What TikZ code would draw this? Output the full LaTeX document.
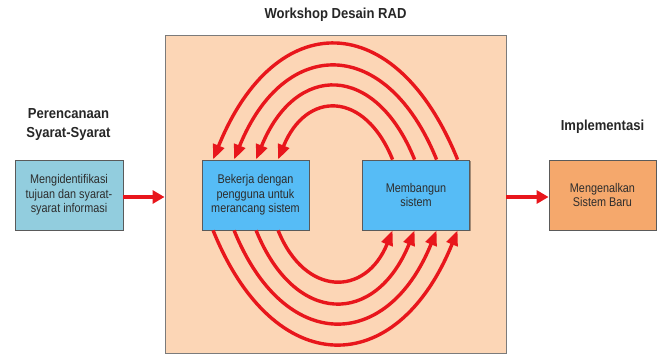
\documentclass[tikz,border=0pt]{standalone}
\usepackage{fontspec}
\setmainfont{Liberation Sans}[FakeStretch=0.9]
\newfontfamily\narrowfont{Liberation Sans}[FakeStretch=0.86]
\usetikzlibrary{arrows.meta,calc,shadows}
\definecolor{peach}{RGB}{252,214,182}
\definecolor{lblue}{RGB}{146,205,222}
\definecolor{sblue}{RGB}{86,188,246}
\definecolor{orng}{RGB}{245,168,108}
\definecolor{arrred}{RGB}{232,22,28}
\definecolor{bordr}{RGB}{90,90,90}
\definecolor{txt}{RGB}{45,45,45}
\tikzset{
  procbox/.style={draw=bordr, line width=0.8pt, inner sep=0pt, minimum width=107pt, minimum height=70pt,
    align=center, text=txt, font=\narrowfont\fontsize{12.6}{14.4}\selectfont,
    drop shadow={shadow xshift=1.2pt, shadow yshift=-1.2pt, opacity=0.35, fill=black}},
  ttl/.style={align=center, text=black!85, font=\fontsize{14.5}{19}\selectfont\bfseries},
  redarrow/.style={draw=arrred, line width=3.4pt, -{Triangle[length=15pt,width=11.5pt]}},
  hredarrow/.style={draw=arrred, line width=3.4pt, -{Triangle[length=12pt,width=13pt]}},
}
\begin{document}
\begin{tikzpicture}[x=1pt,y=1pt]
\useasboundingbox (0,0) rectangle (665,356);
\node[draw=bordr!80, line width=0.9pt, fill=peach, minimum width=341pt, minimum height=318pt, inner sep=0pt] (big) at (335.5,162) {};
\node[ttl] (twork) at (335.5,341) {Workshop Desain RAD};
\node[ttl] (tplan) at (68.5,231) {Perencanaan\\Syarat-Syarat};
\node[ttl] (timpl) at (602.5,229) {Implementasi};
\node[procbox, fill=lblue, minimum width=108pt] (lbox) at (69,161) {Mengidentifikasi\\tujuan dan syarat-\\syarat informasi};
\node[procbox, fill=sblue] (bek) at (255.5,161) {Bekerja dengan\\pengguna untuk\\merancang sistem};
\node[procbox, fill=sblue] (mem) at (416,161) {Membangun\\sistem};
\node[procbox, fill=orng] (rbox) at (602.5,161) {Mengenalkan\\Sistem Baru};
\draw[hredarrow] ([yshift=-2pt]lbox.east) -- ([yshift=-2pt]lbox.east -| big.west);
\draw[hredarrow] ([yshift=-2pt]rbox.west -| big.east) -- ([yshift=-2pt]rbox.west);
% top arcs: from Membangun back to Bekerja
\coordinate (mt1) at ($(mem.north west)+(30.5,0)$);
\coordinate (mt2) at ($(mem.north west)+(52.5,0)$);
\coordinate (mt3) at ($(mem.north west)+(74.5,0)$);
\coordinate (mt4) at ($(mem.north west)+(95.5,0)$);
\coordinate (bt1) at ($(bek.north west)+(76.5,0)$);
\coordinate (bt2) at ($(bek.north west)+(54.5,0)$);
\coordinate (bt3) at ($(bek.north west)+(32.5,0)$);
\coordinate (bt4) at ($(bek.north west)+(11.5,0)$);
\draw[redarrow] (mt1) .. controls +(-28.0,69.3) and +(28.0,69.3) .. (bt1);
\draw[redarrow] (mt2) .. controls +(-39.3,97.3) and +(39.3,97.3) .. (bt2);
\draw[redarrow] (mt3) .. controls +(-50.1,124.0) and +(50.1,124.0) .. (bt3);
\draw[redarrow] (mt4) .. controls +(-62.0,153.3) and +(62.0,153.3) .. (bt4);
% bottom arcs: from Bekerja to Membangun
\coordinate (bb1) at ($(bek.south west)+(76.5,0)$);
\coordinate (bb2) at ($(bek.south west)+(54.5,0)$);
\coordinate (bb3) at ($(bek.south west)+(32.5,0)$);
\coordinate (bb4) at ($(bek.south west)+(11.5,0)$);
\coordinate (mb1) at ($(mem.south west)+(30.5,0)$);
\coordinate (mb2) at ($(mem.south west)+(52.5,0)$);
\coordinate (mb3) at ($(mem.south west)+(74.5,0)$);
\coordinate (mb4) at ($(mem.south west)+(95.5,0)$);
\draw[redarrow] (bb1) .. controls +(26.9,-66.7) and +(-26.9,-66.7) .. (mb1);
\draw[redarrow] (bb2) .. controls +(38.8,-96.0) and +(-38.8,-96.0) .. (mb2);
\draw[redarrow] (bb3) .. controls +(49.6,-122.7) and +(-49.6,-122.7) .. (mb3);
\draw[redarrow] (bb4) .. controls +(60.9,-150.7) and +(-60.9,-150.7) .. (mb4);
\end{tikzpicture}
\end{document}
